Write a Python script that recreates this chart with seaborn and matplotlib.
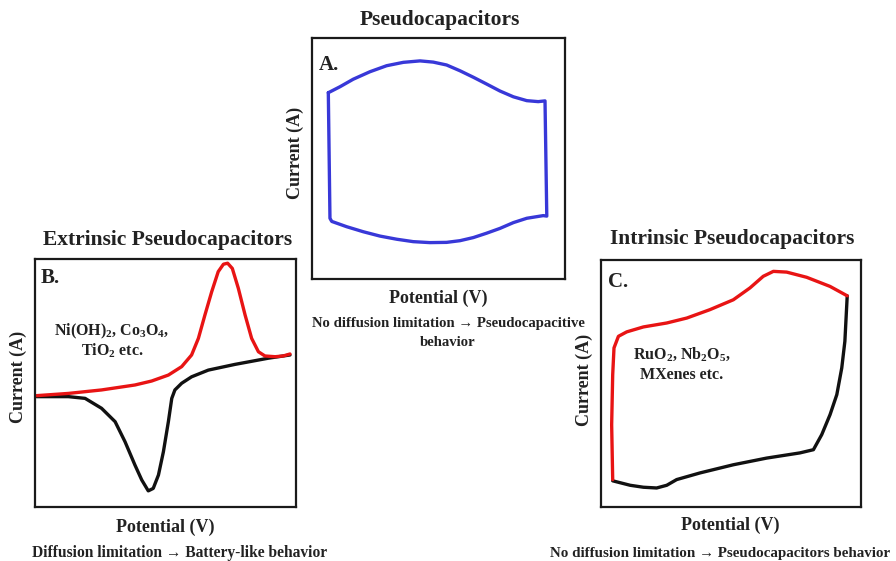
import matplotlib
matplotlib.use("Agg")
import matplotlib.pyplot as plt
import pandas as pd
import seaborn as sns

sns.set_theme(style="white")
plt.rcParams["font.family"] = ["Liberation Serif", "DejaVu Serif"]
plt.rcParams["font.weight"] = "bold"
plt.rcParams["mathtext.fontset"] = "custom"
plt.rcParams["mathtext.rm"] = "Liberation Serif:bold"
plt.rcParams["mathtext.it"] = "Liberation Serif:bold"
plt.rcParams["mathtext.bf"] = "Liberation Serif:bold"
plt.rcParams["mathtext.default"] = "rm"

TEXT = "#222222"
BLUE = "#3838d8"
RED = "#e81414"
BLACK = "#111111"

# Panel A: rectangular pseudocapacitive CV loop (potential, current)
a_pot = [6.45, 11.1, 16.3, 22.9, 29.5, 36.1, 42.7, 47.9, 53.2, 58.5, 63.8, 69.0,
         74.3, 79.6, 84.9, 89.4, 92.1,
         92.8, 91.4, 84.9, 79.6, 74.3, 69.0, 63.8, 58.5, 53.2, 46.6, 40.0, 33.5,
         26.9, 20.3, 13.7, 7.8, 7.1, 6.45]
a_cur = [77.3, 79.8, 82.9, 86.0, 88.5, 89.9, 90.5, 90.0, 88.8, 86.4, 83.7, 80.9,
         78.0, 75.6, 74.0, 73.6, 73.9,
         26.1, 26.3, 25.2, 23.4, 21.0, 19.0, 17.2, 15.9, 15.2, 15.1, 15.5, 16.5,
         17.8, 19.6, 21.7, 23.9, 25.2, 77.3]

# Panel B: battery-like CV with redox peaks
b_ox_pot = [0.6, 12.8, 25.5, 38.3, 44.7, 51.1, 56.2, 60.0, 62.6, 65.1, 67.7, 70.2,
            72.2, 73.8, 75.6, 77.9, 80.5, 83.0, 85.6, 88.1, 92.0, 95.1, 97.7]
b_ox_cur = [44.9, 45.8, 47.2, 49.2, 50.8, 53.2, 56.6, 61.3, 68.0, 77.4, 86.8, 94.9,
            97.9, 98.3, 96.2, 88.2, 77.4, 68.0, 62.6, 60.9, 60.6, 60.9, 61.7]
b_red_pot = [0.6, 12.8, 19.2, 25.5, 30.7, 34.5, 38.3, 40.9, 43.4, 45.3, 47.3, 49.2,
             51.1, 52.4, 53.6, 56.2, 60.0, 66.4, 76.6, 89.4, 97.7]
b_red_cur = [44.5, 44.5, 43.8, 39.8, 34.4, 26.3, 16.9, 10.9, 6.5, 7.5, 12.9, 22.3,
             34.4, 43.8, 47.2, 49.9, 52.5, 55.2, 57.5, 60.0, 61.3]

# Panel C: distorted intrinsic pseudocapacitive loop
c_ox_pot = [4.5, 4.1, 4.5, 5.0, 6.7, 9.9, 16.3, 25.3, 33.0, 41.9, 50.9, 57.3,
            62.4, 66.3, 71.4, 79.1, 88.1, 94.7]
c_ox_cur = [11.1, 33.3, 53.6, 64.4, 69.1, 70.9, 72.9, 74.5, 76.5, 79.9, 83.9, 88.7,
            93.4, 95.4, 95.1, 93.0, 89.3, 85.5]
c_red_pot = [94.7, 93.8, 92.6, 90.7, 88.1, 84.9, 81.7, 76.5, 63.7, 50.9, 38.1,
             29.1, 25.3, 21.4, 16.3, 11.2, 4.5]
c_red_cur = [85.5, 67.1, 56.3, 45.5, 37.4, 29.3, 23.2, 21.9, 19.8, 17.1, 13.8,
             11.1, 8.8, 7.7, 8.0, 8.8, 10.6]


def loop(ax, pot, cur, color):
    df = pd.DataFrame({"Potential": pot, "Current": cur})
    sns.lineplot(data=df, x="Potential", y="Current", sort=False, estimator=None,
                 color=color, lw=2.4, ax=ax, solid_capstyle="round",
                 solid_joinstyle="round")


def frame(ax):
    ax.set_xlim(0, 100)
    ax.set_ylim(0, 100)
    ax.set_xticks([])
    ax.set_yticks([])
    ax.set_xlabel("")
    ax.set_ylabel("")
    for s in ax.spines.values():
        s.set_visible(True)
        s.set_color("#1a1a1a")
        s.set_linewidth(1.6)


fig = plt.figure(figsize=(8.96, 5.61), dpi=100)
fig.patch.set_facecolor("white")

axA = fig.add_axes([312 / 896, 1 - 279 / 561, 253 / 896, 241 / 561])
axB = fig.add_axes([35 / 896, 1 - 507 / 561, 261 / 896, 248 / 561])
axC = fig.add_axes([601 / 896, 1 - 507 / 561, 260 / 896, 247 / 561])

loop(axA, a_pot, a_cur, BLUE)
loop(axB, b_red_pot, b_red_cur, BLACK)
loop(axB, b_ox_pot, b_ox_cur, RED)
loop(axC, c_red_pot, c_red_cur, BLACK)
loop(axC, c_ox_pot, c_ox_cur, RED)
for ax in (axA, axB, axC):
    frame(ax)


def ftext(x, y, s, size, **kw):
    fig.text(x / 896, 1 - y / 561, s, fontsize=size, fontweight="bold", color=TEXT,
             ha=kw.pop("ha", "center"), va=kw.pop("va", "center"), **kw)


# Titles
ftext(440, 20, "Pseudocapacitors", 15.5)
ftext(168, 240, "Extrinsic Pseudocapacitors", 15.5)
ftext(732, 239, "Intrinsic Pseudocapacitors", 15.5)

# Panel letters
ftext(319, 65, "A.", 15, ha="left")
ftext(41, 278, "B.", 15, ha="left")
ftext(608, 282, "C.", 15, ha="left")

# Axis labels
ftext(295, 153, "Current (A)", 13, rotation=90)
ftext(18, 377, "Current (A)", 13, rotation=90)
ftext(584, 380, "Current (A)", 13, rotation=90)
ftext(438, 298, "Potential (V)", 13)
ftext(165, 527, "Potential (V)", 13)
ftext(730, 525, "Potential (V)", 13)

# Material annotations
ftext(112, 331, r"Ni(OH)$_2$, Co$_3$O$_4$,", 11.5)
ftext(112, 351, r"TiO$_2$ etc.", 11.5)
ftext(682, 354, r"RuO$_2$, Nb$_2$O$_5$,", 11.5)
ftext(682, 375, "MXenes etc.", 11.5)

# Behaviour notes
ftext(448, 323, "No diffusion limitation \u2192 Pseudocapacitive", 10.6)
ftext(448, 343, "behavior", 10.6)
ftext(180, 553, "Diffusion limitation \u2192 Battery-like behavior", 11.2)
ftext(720, 553, "No diffusion limitation \u2192 Pseudocapacitors behavior", 10.8)

fig.savefig("out.png", dpi=100, facecolor="white")
